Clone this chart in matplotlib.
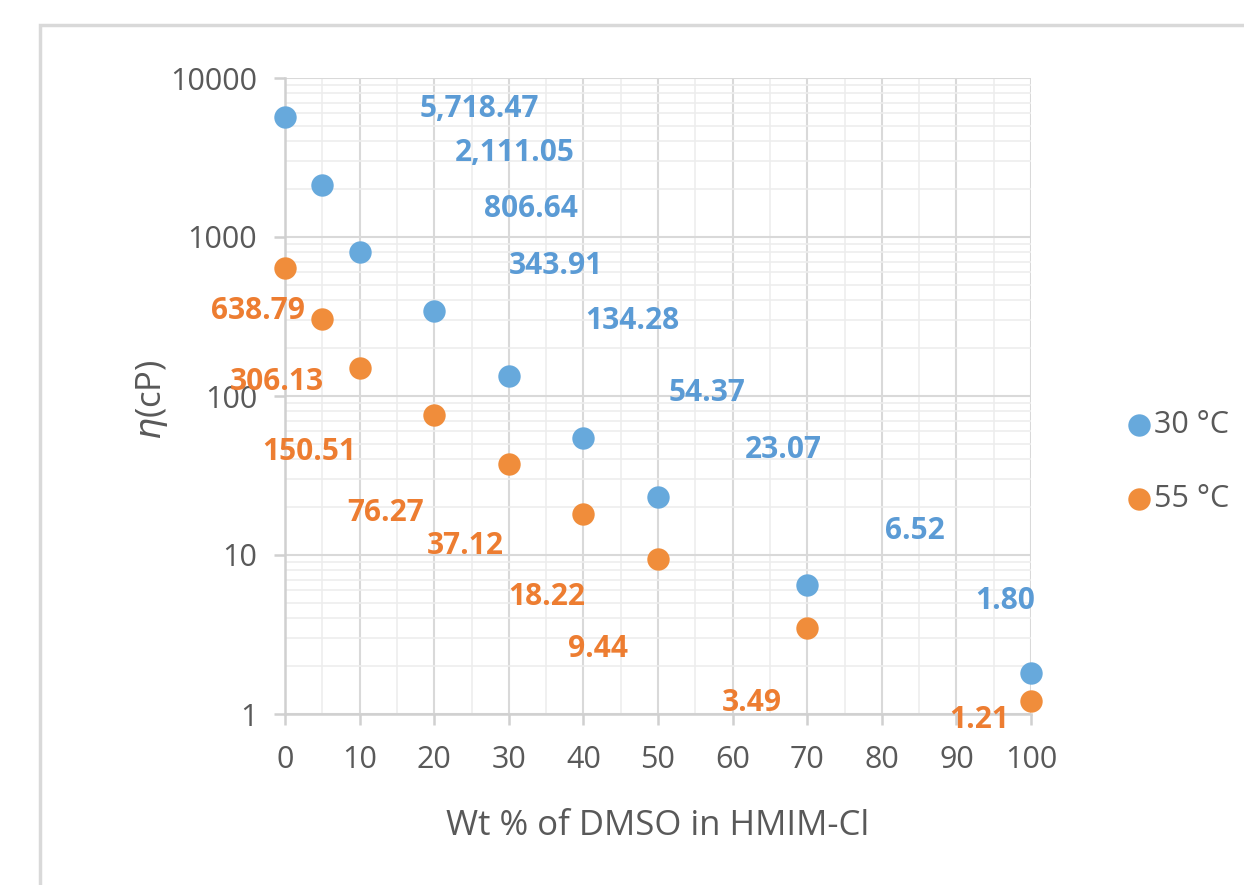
import matplotlib
matplotlib.use("Agg")
import matplotlib.pyplot as plt
from matplotlib.patches import Rectangle
from matplotlib.ticker import FixedLocator, NullFormatter

plt.rcParams['font.family'] = ['Open Sans', 'DejaVu Sans']

# ---- data ----
wt_dmso = [0, 5, 10, 20, 30, 40, 50, 70, 100]
eta_30 = [5718.47, 2111.05, 806.64, 343.91, 134.28, 54.37, 23.07, 6.52, 1.80]
eta_55 = [638.79, 306.13, 150.51, 76.27, 37.12, 18.22, 9.44, 3.49, 1.21]
series_names = ['30 °C', '55 °C']
x_ticks = [0, 10, 20, 30, 40, 50, 60, 70, 80, 90, 100]
y_ticks = [1, 10, 100, 1000, 10000]

# label offsets in pixels (style/placement)
off_30 = [(194, 8), (192, 32), (171, 43), (122, 45), (124, 55), (124, 45), (125, 47), (108, 54), (-26, 72)]
off_55 = [(-27, -43), (-45, -63), (-50, -84), (-49, -98), (-43, -82), (-37, -83), (-60, -90), (-55, -75), (-52, -19)]

BLUE = '#5B9BD5'
ORANGE = '#ED7D31'
BLUE_M = '#67A9DC'
ORANGE_M = '#F08D3B'
GREY_TXT = '#595959'

fig = plt.figure(figsize=(12.44, 8.85), dpi=100)
fig.patches.append(Rectangle((40/1244, -0.1), 1.2, 1 - 25/885 + 0.1, transform=fig.transFigure,
                             fill=False, edgecolor='#D9D9D9', linewidth=2.5, zorder=0))
ax = fig.add_axes([285/1244, 1 - 714/885, (1031-285)/1244, (714-78)/885])
ax.set_yscale('log')
ax.set_xlim(0, 100)
ax.set_ylim(1, 10000)

ax.xaxis.set_major_locator(FixedLocator(x_ticks))
ax.xaxis.set_minor_locator(FixedLocator([5 + 10*i for i in range(10)]))
ax.yaxis.set_major_locator(FixedLocator(y_ticks))
minors = [m * 10**e for e in range(4) for m in range(2, 10)]
ax.yaxis.set_minor_locator(FixedLocator(minors))
ax.yaxis.set_minor_formatter(NullFormatter())
ax.set_yticklabels([str(v) for v in y_ticks])
ax.set_xticklabels([str(v) for v in x_ticks])

ax.grid(which='major', color='#D9D9D9', linewidth=1.5, zorder=0)
ax.grid(which='minor', color='#EDEDED', linewidth=1.2, zorder=0)
ax.set_axisbelow(True)

for s in ['top', 'right']:
    ax.spines[s].set_visible(False)
for s in ['left', 'bottom']:
    ax.spines[s].set_color('#D0D0D0')
    ax.spines[s].set_linewidth(1.8)

ax.tick_params(axis='both', which='major', colors='#D0D0D0', length=8, width=1.8,
               labelcolor=GREY_TXT, labelsize=22)
ax.tick_params(axis='y', which='major', pad=12)
ax.tick_params(axis='x', which='major', pad=14)
ax.tick_params(axis='both', which='minor', length=0)

ax.scatter(wt_dmso, eta_30, s=260, color=BLUE_M, label=series_names[0], zorder=3, clip_on=False, linewidths=0)
ax.scatter(wt_dmso, eta_55, s=260, color=ORANGE_M, label=series_names[1], zorder=3, clip_on=False, linewidths=0)

for x, y, o in zip(wt_dmso, eta_30, off_30):
    ax.annotate(f'{y:,.2f}', (x, y), xytext=o, textcoords='offset pixels', ha='center', va='center',
                color=BLUE, fontsize=21.5, fontweight='bold', annotation_clip=False)
for x, y, o in zip(wt_dmso, eta_55, off_55):
    ax.annotate(f'{y:,.2f}', (x, y), xytext=o, textcoords='offset pixels', ha='center', va='center',
                color=ORANGE, fontsize=21.5, fontweight='bold', annotation_clip=False)

fig.text(658/1244, 1 - 826/885, 'Wt % of DMSO in HMIM-Cl', ha='center', va='center',
         fontsize=25, color=GREY_TXT)
fig.text(152/1244, 1 - 400/885, r'$\eta$(cP)', ha='center', va='center', rotation=90,
         fontsize=25, color=GREY_TXT)

leg = ax.legend(loc='center left', bbox_to_anchor=(1.108, 0.396), frameon=False, fontsize=22,
                handletextpad=0.0, labelspacing=1.45, markerscale=1.0, labelcolor=GREY_TXT,
                borderaxespad=0, handlelength=1.0)

fig.savefig('out.png', dpi=100, facecolor='white')
